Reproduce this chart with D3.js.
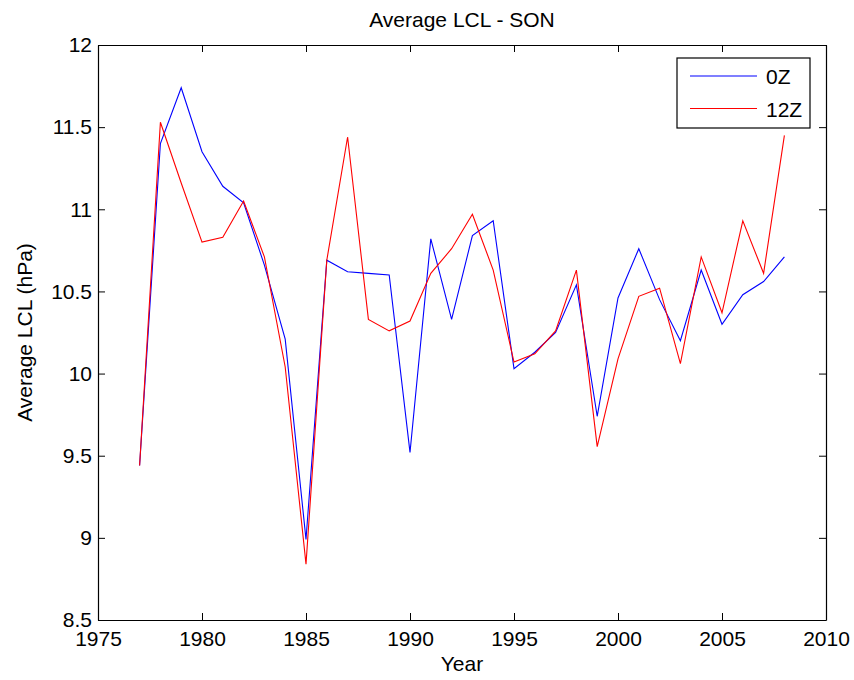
<!DOCTYPE html>
<html>
<head>
<meta charset="utf-8">
<script src="https://cdn.jsdelivr.net/npm/d3@7"></script>
<style>
  html, body { margin: 0; padding: 0; background: #fff; }
  svg { display: block; }
  text { font-family: "Liberation Sans", Arial, Helvetica, sans-serif; fill: #000; }
</style>
</head>
<body>
<svg id="chart" width="854" height="680"></svg>
<script>
// Seasonal (SON) mean lifted condensation level, 1977–2008
const years = d3.range(1977, 2009);
const lcl0Z = [9.44, 11.40, 11.74, 11.35, 11.14, 11.04, 10.66, 10.21, 8.99, 10.69,
               10.62, 10.61, 10.60, 9.52, 10.82, 10.33, 10.84, 10.93, 10.03, 10.13,
               10.25, 10.54, 9.74, 10.46, 10.76, 10.45, 10.20, 10.63, 10.30, 10.48,
               10.56, 10.71];
const lcl12Z = [9.44, 11.53, 11.16, 10.80, 10.83, 11.05, 10.71, 10.04, 8.84, 10.69,
                11.44, 10.33, 10.26, 10.32, 10.61, 10.76, 10.97, 10.63, 10.07, 10.12,
                10.26, 10.63, 9.555, 10.09, 10.47, 10.52, 10.06, 10.71, 10.37, 10.93,
                10.61, 11.45];
const xTicks = [1975, 1980, 1985, 1990, 1995, 2000, 2005, 2010];
const yTicks = [8.5, 9, 9.5, 10, 10.5, 11, 11.5, 12];
const seriesNames = ["0Z", "12Z"];
const seriesColors = ["#0000ff", "#ff0000"];

const svg = d3.select("#chart");
const plotL = 98, plotR = 826, plotT = 45, plotB = 620;
const fontSize = 21;

const x = d3.scaleLinear().domain([1975, 2010]).range([plotL, plotR]);
const y = d3.scaleLinear().domain([8.5, 12]).range([plotB, plotT]);

// Axes with inward ticks on all four sides
const tickLen = 7;
const axisBottom = d3.axisBottom(x).tickValues(xTicks).tickFormat(d3.format("d"))
  .tickSizeInner(-tickLen).tickSizeOuter(0).tickPadding(11);
const axisTop = d3.axisTop(x).tickValues(xTicks).tickFormat("")
  .tickSizeInner(-tickLen).tickSizeOuter(0);
const axisLeft = d3.axisLeft(y).tickValues(yTicks).tickFormat(d => d3.format("")(d))
  .tickSizeInner(-tickLen).tickSizeOuter(0).tickPadding(6);
const axisRight = d3.axisRight(y).tickValues(yTicks).tickFormat("")
  .tickSizeInner(-tickLen).tickSizeOuter(0);

function styleAxis(g) {
  g.select(".domain").attr("stroke", "#000").attr("stroke-width", 1.2);
  g.selectAll(".tick line").attr("stroke", "#000").attr("stroke-width", 1);
  g.selectAll(".tick text").attr("font-size", fontSize)
    .attr("font-family", "'Liberation Sans', Arial, sans-serif").attr("fill", "#000");
}

svg.append("g").attr("transform", `translate(0,${plotB})`).call(axisBottom).call(styleAxis);
svg.append("g").attr("transform", `translate(0,${plotT})`).call(axisTop).call(styleAxis);
svg.append("g").attr("transform", `translate(${plotL},0)`).call(axisLeft).call(styleAxis);
svg.append("g").attr("transform", `translate(${plotR},0)`).call(axisRight).call(styleAxis);

// Series lines
const line = d3.line().x((d, i) => x(years[i])).y(d => y(d));
[lcl0Z, lcl12Z].forEach((vals, k) => {
  svg.append("path")
    .datum(vals)
    .attr("fill", "none")
    .attr("stroke", seriesColors[k])
    .attr("stroke-width", 1.1)
    .attr("stroke-linejoin", "miter")
    .attr("d", line);
});

// Title and axis labels
svg.append("text")
  .attr("x", (plotL + plotR) / 2).attr("y", 27)
  .attr("text-anchor", "middle").attr("font-size", fontSize)
  .text("Average LCL - SON");

svg.append("text")
  .attr("x", (plotL + plotR) / 2).attr("y", 671)
  .attr("text-anchor", "middle").attr("font-size", fontSize)
  .text("Year");

svg.append("text")
  .attr("transform", `translate(32,${(plotT + plotB) / 2}) rotate(-90)`)
  .attr("text-anchor", "middle").attr("font-size", fontSize)
  .text("Average LCL (hPa)");

// Legend
const legend = svg.append("g");
legend.append("rect")
  .attr("x", 677).attr("y", 58).attr("width", 133).attr("height", 70)
  .attr("fill", "#fff").attr("stroke", "#000").attr("stroke-width", 1.2);
seriesNames.forEach((name, k) => {
  const ly = 76 + k * 32.5;
  legend.append("line")
    .attr("x1", 690).attr("x2", 757).attr("y1", ly).attr("y2", ly)
    .attr("stroke", seriesColors[k]).attr("stroke-width", 1.1);
  legend.append("text")
    .attr("x", 766).attr("y", ly + 8).attr("font-size", fontSize)
    .text(name);
});
</script>
</body>
</html>
